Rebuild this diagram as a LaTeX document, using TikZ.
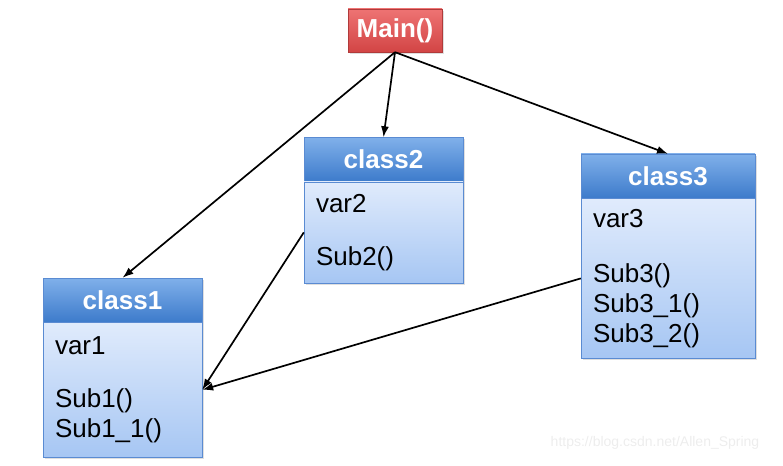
\documentclass[tikz,border=0pt]{standalone}
\usepackage{fontspec}
\setmainfont{Liberation Sans}
\usepackage{xcolor}
\usepackage{tikz}
\usetikzlibrary{arrows.meta}
\usetikzlibrary{shadows}
\usetikzlibrary{positioning}

\definecolor{headtop}{HTML}{80B0EA}
\definecolor{headbot}{HTML}{3D7BCB}
\definecolor{bodytop}{HTML}{E0EBFC}
\definecolor{bodybot}{HTML}{A6C6F3}
\definecolor{boxline}{HTML}{5A8BD2}
\definecolor{maintop}{HTML}{EE7373}
\definecolor{mainbot}{HTML}{D24545}
\definecolor{mainline}{HTML}{B03A3A}

\begin{document}
\begin{tikzpicture}[x=1pt,y=-1pt,node distance=0pt,semithick]
  \tikzstyle{shadowed}=[drop shadow={shadow xshift=1.5pt,shadow yshift=-2pt,opacity=0.25}]
  \tikzstyle{mainbox}=[rectangle, draw=mainline, thin, top color=maintop, bottom color=mainbot, text=white, font=\fontsize{26}{30}\selectfont\bfseries, minimum width=94pt, minimum height=43pt, inner sep=0pt, shadowed]
  \tikzstyle{classhead}=[rectangle, draw=boxline, thin, top color=headtop, bottom color=headbot, text=white, font=\fontsize{26}{30}\selectfont\bfseries, minimum height=44pt, inner sep=0pt, shadowed]
  \tikzstyle{classbody}=[rectangle, draw=boxline, thin, top color=bodytop, bottom color=bodybot, text=black, font=\fontsize{26}{30}\selectfont, align=left, inner xsep=12pt, inner ysep=0pt, shadowed]
  \tikzstyle{conn}=[-{Latex[length=11pt,width=8pt]}, line width=1.7pt, black]

  \useasboundingbox (0,0) rectangle (783,465);

  \node[mainbox] (main) at (395,30.5) {Main()};

  % class boxes
  \node[classhead, minimum width=159pt] (c1head) at (122.5,300) {class1};
  \node[classbody, text width=135pt, minimum height=135pt, below=of c1head] (c1body) {var1\\[23pt]Sub1()\\Sub1\_1()};

  \node[classhead, minimum width=159pt] (c2head) at (383.5,159.5) {class2};
  \node[classbody, text width=135pt, minimum height=101pt, below=of c2head] (c2body) {var2\\[23pt]Sub2()};

  \node[classhead, minimum width=174pt] (c3head) at (668,176) {class3};
  \node[classbody, text width=150pt, minimum height=160pt, below=of c3head] (c3body) {var3\\[25pt]Sub3()\\Sub3\_1()\\Sub3\_2()};

  % calls
  \draw[conn] (main.south) -- (c1head.north);
  \draw[conn] (main.south) -- (c2head.north);
  \draw[conn] (main.south) -- (c3head.north);
  \draw[conn] (c2body.west) -- (c1body.east);
  \draw[conn] (c3body.west) -- (c1body.east);

  \node[font=\fontsize{14}{16}\selectfont, text=gray!14] (mark) at (655,443) {https://blog.csdn.net/Allen\_Spring};
\end{tikzpicture}
\end{document}
